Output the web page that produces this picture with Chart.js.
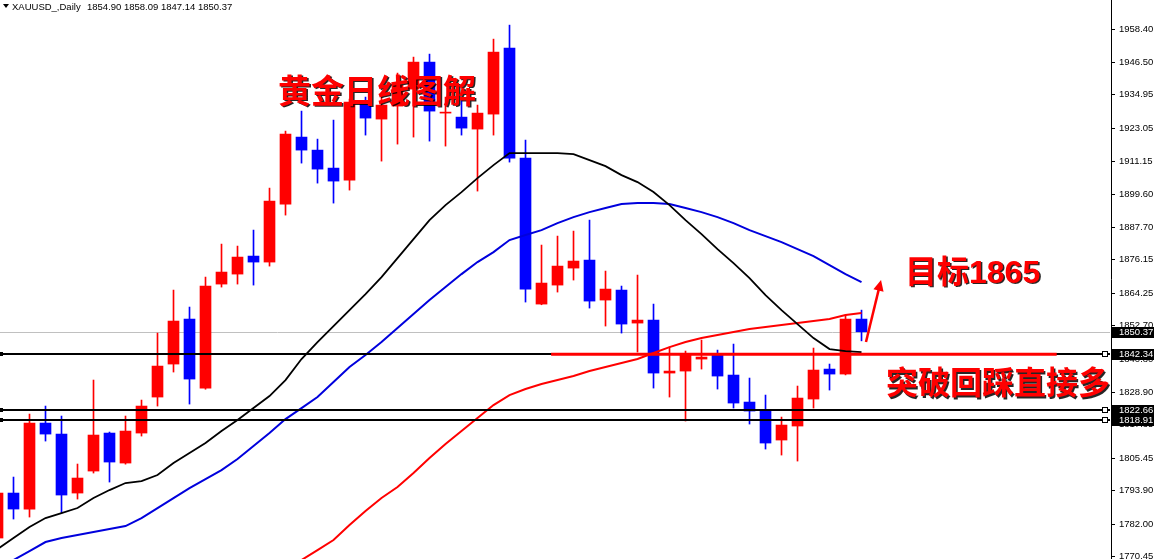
<!DOCTYPE html>
<html>
<head>
<meta charset="utf-8">
<script src="https://cdn.jsdelivr.net/npm/chart.js"></script>
<style>
  html, body { margin: 0; padding: 0; background: #fff; overflow: hidden; }
  canvas { display: block; }
</style>
</head>
<body>
<canvas id="chart" width="1154" height="559"></canvas>
<script>
// daily bars, first one (index -1) is cut by the left edge
const symbol = 'XAUUSD_,Daily';
const firstBar = -1;
const opens = [1776.87, 1792.90, 1787.20, 1817.84, 1813.92, 1792.90, 1800.74, 1814.28, 1803.59, 1814.28,
  1827.11, 1838.87, 1854.90, 1830.31, 1867.37, 1870.93, 1877.35, 1875.21, 1895.87, 1919.75,
  1915.11, 1908.70, 1904.43, 1932.22, 1926.16, 1930.79, 1936.85, 1946.47, 1928.30, 1926.87,
  1922.60, 1927.94, 1951.46, 1912.26, 1860.24, 1867.01, 1873.07, 1875.92, 1861.67, 1865.23,
  1853.47, 1854.54, 1835.66, 1836.37, 1840.64, 1842.07, 1834.95, 1825.33, 1822.47, 1811.79,
  1816.78, 1826.40, 1837.08, 1835.30, 1854.90];
const highs = [1793.40, 1798.60, 1821.05, 1823.90, 1820.34, 1803.24, 1833.17, 1814.64, 1820.34, 1826.04,
  1849.91, 1865.23, 1859.18, 1869.86, 1881.62, 1880.91, 1886.61, 1901.57, 1921.88, 1929.01,
  1919.03, 1925.80, 1933.29, 1934.00, 1934.71, 1942.55, 1948.25, 1949.32, 1934.00, 1933.29,
  1931.15, 1954.66, 1959.65, 1918.68, 1881.27, 1884.47, 1886.25, 1890.17, 1872.00, 1866.66,
  1870.58, 1860.24, 1844.92, 1843.50, 1847.42, 1843.85, 1845.99, 1833.88, 1827.82, 1819.98,
  1831.03, 1844.57, 1838.87, 1856.32, 1858.09];
const lows = [1775.50, 1783.64, 1784.35, 1811.43, 1785.77, 1790.76, 1800.03, 1796.82, 1803.20, 1813.21,
  1823.90, 1836.02, 1824.61, 1829.90, 1866.30, 1867.37, 1867.01, 1873.78, 1891.95, 1910.48,
  1903.35, 1896.23, 1900.86, 1920.46, 1911.19, 1917.25, 1919.75, 1918.32, 1916.54, 1920.46,
  1900.51, 1920.46, 1910.84, 1860.96, 1860.00, 1864.52, 1868.80, 1858.82, 1852.41, 1849.91,
  1843.14, 1830.31, 1827.11, 1818.56, 1837.08, 1829.96, 1823.19, 1817.49, 1808.58, 1806.44,
  1804.30, 1823.19, 1829.60, 1835.00, 1847.14];
const closes = [1792.90, 1787.20, 1817.84, 1813.92, 1792.19, 1798.25, 1813.57, 1803.95, 1814.99, 1823.90,
  1838.15, 1854.19, 1833.52, 1866.66, 1871.65, 1876.99, 1875.21, 1896.94, 1920.82, 1915.11,
  1908.34, 1904.07, 1932.22, 1926.52, 1931.15, 1938.27, 1946.47, 1929.01, 1928.65, 1922.95,
  1928.30, 1950.03, 1912.26, 1865.59, 1867.73, 1873.78, 1875.57, 1861.31, 1865.59, 1853.12,
  1854.54, 1835.66, 1836.37, 1842.43, 1841.36, 1834.59, 1824.97, 1822.12, 1810.72, 1817.13,
  1826.75, 1836.73, 1835.30, 1854.90, 1850.37];

// moving averages (black, blue start at bar -1, red at bar 17)
const maBlack = [1772.95, 1776.87, 1780.79, 1784.00, 1785.78, 1787.56, 1791.12, 1793.97, 1796.47, 1797.18,
  1799.32, 1803.59, 1807.16, 1810.72, 1814.99, 1818.91, 1823.19, 1827.47, 1833.17, 1840.65,
  1846.71, 1852.41, 1858.11, 1863.81, 1869.86, 1876.63, 1883.40, 1890.17, 1895.52, 1900.15,
  1905.14, 1909.77, 1914.05, 1914.05, 1914.05, 1914.05, 1913.69, 1911.55, 1909.41, 1906.21,
  1903.71, 1900.15, 1895.52, 1890.17, 1885.19, 1879.84, 1874.85, 1869.51, 1863.45, 1858.11,
  1853.12, 1848.13, 1844.21, 1843.50, 1843.14];
const maBlue = [1765.47, 1769.03, 1772.24, 1775.45, 1776.87, 1777.94, 1779.01, 1780.08, 1781.15, 1784.00,
  1787.56, 1791.12, 1794.69, 1797.89, 1801.10, 1805.02, 1809.65, 1814.28, 1819.27, 1823.19,
  1827.11, 1832.45, 1837.80, 1842.07, 1846.71, 1851.69, 1856.68, 1861.67, 1866.30, 1870.93,
  1875.21, 1878.77, 1883.05, 1884.83, 1886.61, 1889.11, 1891.24, 1893.02, 1894.45, 1895.87,
  1896.23, 1896.23, 1895.87, 1894.45, 1893.02, 1891.24, 1889.11, 1886.61, 1884.47, 1882.34,
  1879.84, 1877.35, 1874.14, 1870.93, 1868.08];
const maRedStart = 17;
const maRed = [1765.47, 1769.03, 1772.59, 1776.16, 1781.50, 1786.49, 1791.12, 1795.04, 1800.03, 1805.37,
  1810.36, 1814.99, 1819.63, 1824.26, 1827.82, 1829.96, 1831.74, 1833.17, 1834.59, 1836.37,
  1837.80, 1839.22, 1840.65, 1842.79, 1844.92, 1846.71, 1848.13, 1849.20, 1850.27, 1851.34,
  1852.05, 1852.76, 1853.48, 1854.19, 1854.90, 1856.33, 1857.04];

const priceTicks = [1958.40, 1946.50, 1934.95, 1923.05, 1911.15, 1899.60, 1887.70, 1876.15, 1864.25,
  1852.70, 1840.80, 1828.90, 1817.35, 1805.45, 1793.90, 1782.00, 1770.45];
const levels = [1842.34, 1822.66, 1818.91];
const lastPrice = 1850.37;
const breakLevel = 1842.34;
const breakSpan = [33.6, 65.2];
const arrowFrom = [53.28, 1846.7];
const arrowTo = [54.22, 1868.8];

const UP = '#ff0000', DOWN = '#0000ff';
const bars = opens.map((o, k) => k + firstBar);
const isUp = opens.map((o, k) => closes[k] >= o);
const colors = isUp.map(u => u ? UP : DOWN);

const overlay = {
  id: 'overlay',
  beforeDraw(chart) {
    const ctx = chart.ctx;
    ctx.save();
    ctx.fillStyle = '#fff';
    ctx.fillRect(0, 0, chart.width, chart.height);
    ctx.restore();
  },
  beforeDatasetsDraw(chart) {
    const {ctx, chartArea: a, scales: {y}} = chart;
    ctx.save();
    ctx.strokeStyle = '#c0c0c0';
    ctx.lineWidth = 1;
    const py = Math.round(y.getPixelForValue(lastPrice)) + 0.5;
    ctx.beginPath(); ctx.moveTo(a.left, py); ctx.lineTo(a.right, py); ctx.stroke();
    ctx.restore();
  },
  afterDatasetsDraw(chart) {
    const {ctx, chartArea: a, scales: {x, y}} = chart;
    ctx.save();
    ctx.beginPath(); ctx.rect(a.left, a.top, a.right - a.left, a.bottom - a.top); ctx.clip();

    // support / resistance lines
    ctx.strokeStyle = '#000';
    ctx.lineWidth = 2;
    levels.forEach(v => {
      const py = Math.round(y.getPixelForValue(v));
      ctx.beginPath(); ctx.moveTo(a.left, py); ctx.lineTo(a.right, py); ctx.stroke();
      ctx.fillStyle = '#000';
      ctx.fillRect(a.left, py - 2, 3, 4);
      ctx.fillStyle = '#fff';
      ctx.fillRect(a.right - 7, py - 2, 5, 5);
      ctx.lineWidth = 1;
      ctx.strokeRect(a.right - 7.5, py - 2.5, 5, 5);
      ctx.lineWidth = 2;
    });

    // hand drawn red break line + arrow
    ctx.strokeStyle = '#ff0000';
    ctx.lineWidth = 3;
    const by = y.getPixelForValue(breakLevel);
    ctx.beginPath(); ctx.moveTo(x.getPixelForValue(breakSpan[0]), by);
    ctx.lineTo(x.getPixelForValue(breakSpan[1]), by); ctx.stroke();

    const x0 = x.getPixelForValue(arrowFrom[0]), y0 = y.getPixelForValue(arrowFrom[1]);
    const x1 = x.getPixelForValue(arrowTo[0]), y1 = y.getPixelForValue(arrowTo[1]);
    const ang = Math.atan2(y1 - y0, x1 - x0);
    ctx.lineWidth = 2.5;
    ctx.beginPath(); ctx.moveTo(x0, y0);
    ctx.lineTo(x1 - 6 * Math.cos(ang), y1 - 6 * Math.sin(ang)); ctx.stroke();
    ctx.fillStyle = '#ff0000';
    ctx.beginPath();
    ctx.moveTo(x1, y1);
    ctx.lineTo(x1 - 12 * Math.cos(ang - 0.45), y1 - 12 * Math.sin(ang - 0.45));
    ctx.lineTo(x1 - 12 * Math.cos(ang + 0.45), y1 - 12 * Math.sin(ang + 0.45));
    ctx.closePath(); ctx.fill();

    // notes
    ctx.textBaseline = 'middle';
    ctx.shadowColor = 'rgba(0,0,0,0.85)';
    ctx.shadowOffsetX = 1.5;
    ctx.shadowOffsetY = 1.5;
    ctx.fillStyle = '#ff0000';
    ctx.font = 'bold 33px "Noto Sans CJK SC"';
    ctx.fillText('黄金日线图解', 278, 90);
    ctx.font = 'bold 32px "Liberation Sans", "Noto Sans CJK SC"';
    ctx.fillText('目标1865', 905, 274);
    ctx.font = 'bold 32px "Noto Sans CJK SC"';
    ctx.fillText('突破回踩直接多', 886, 382);
    ctx.restore();
  },
  afterDraw(chart) {
    const {ctx, chartArea: a, scales: {y}} = chart;
    ctx.save();
    // price axis
    ctx.strokeStyle = '#000';
    ctx.lineWidth = 1;
    ctx.beginPath(); ctx.moveTo(a.right + 1.5, 0); ctx.lineTo(a.right + 1.5, chart.height); ctx.stroke();
    ctx.font = '9.5px "Liberation Sans"';
    ctx.textBaseline = 'middle';
    ctx.fillStyle = '#000';
    priceTicks.forEach(v => {
      const py = Math.round(y.getPixelForValue(v)) + 0.5;
      ctx.beginPath(); ctx.moveTo(a.right + 2, py); ctx.lineTo(a.right + 5, py); ctx.stroke();
      ctx.fillText(v.toFixed(2), a.right + 9, py);
    });
    [lastPrice].concat(levels).forEach(v => {
      const py = Math.round(y.getPixelForValue(v));
      ctx.fillStyle = '#000';
      ctx.fillRect(a.right + 2, py - 5, chart.width - a.right - 2, 11);
      ctx.fillStyle = '#fff';
      ctx.fillText(v.toFixed(2), a.right + 9, py + 0.5);
    });
    // header
    const n = opens.length - 1;
    ctx.fillStyle = '#000';
    ctx.beginPath(); ctx.moveTo(3, 4); ctx.lineTo(9, 4); ctx.lineTo(6, 8); ctx.closePath(); ctx.fill();
    ctx.fillText(symbol, 12, 7);
    ctx.fillText([opens[n], highs[n], lows[n], closes[n]].map(v => v.toFixed(2)).join(' '), 87, 7);
    ctx.restore();
  }
};

new Chart(document.getElementById('chart'), {
  type: 'bar',
  data: {
    datasets: [
      {
        type: 'line', label: 'MA black', order: 1,
        data: maBlack.map((v, k) => ({x: k + firstBar, y: v})),
        borderColor: '#000', borderWidth: 1.8, pointRadius: 0, tension: 0
      },
      {
        type: 'line', label: 'MA blue', order: 1,
        data: maBlue.map((v, k) => ({x: k + firstBar, y: v})),
        borderColor: '#0000dd', borderWidth: 2, pointRadius: 0, tension: 0
      },
      {
        type: 'line', label: 'MA red', order: 1,
        data: maRed.map((v, k) => ({x: k + maRedStart, y: v})),
        borderColor: '#ff0000', borderWidth: 2, pointRadius: 0, tension: 0
      },
      {
        label: 'body', order: 2, grouped: false, barThickness: 11,
        data: bars.map((b, k) => ({x: b, y: [opens[k], closes[k]]})),
        backgroundColor: colors, borderWidth: 0
      },
      {
        label: 'wick', order: 3, grouped: false, barThickness: 1,
        data: bars.map((b, k) => ({x: b, y: [lows[k], highs[k]]})),
        backgroundColor: colors, borderWidth: 0
      }
    ]
  },
  options: {
    responsive: false,
    animation: false,
    layout: { padding: { left: 0, right: 44, top: 0, bottom: 0 } },
    plugins: { legend: { display: false }, tooltip: { enabled: false } },
    scales: {
      x: { type: 'linear', min: -0.84375, max: 68.53, offset: false, display: false },
      y: { type: 'linear', min: 1769.4, max: 1968.6, beginAtZero: false, display: false }
    }
  },
  plugins: [overlay]
});
</script>
</body>
</html>
